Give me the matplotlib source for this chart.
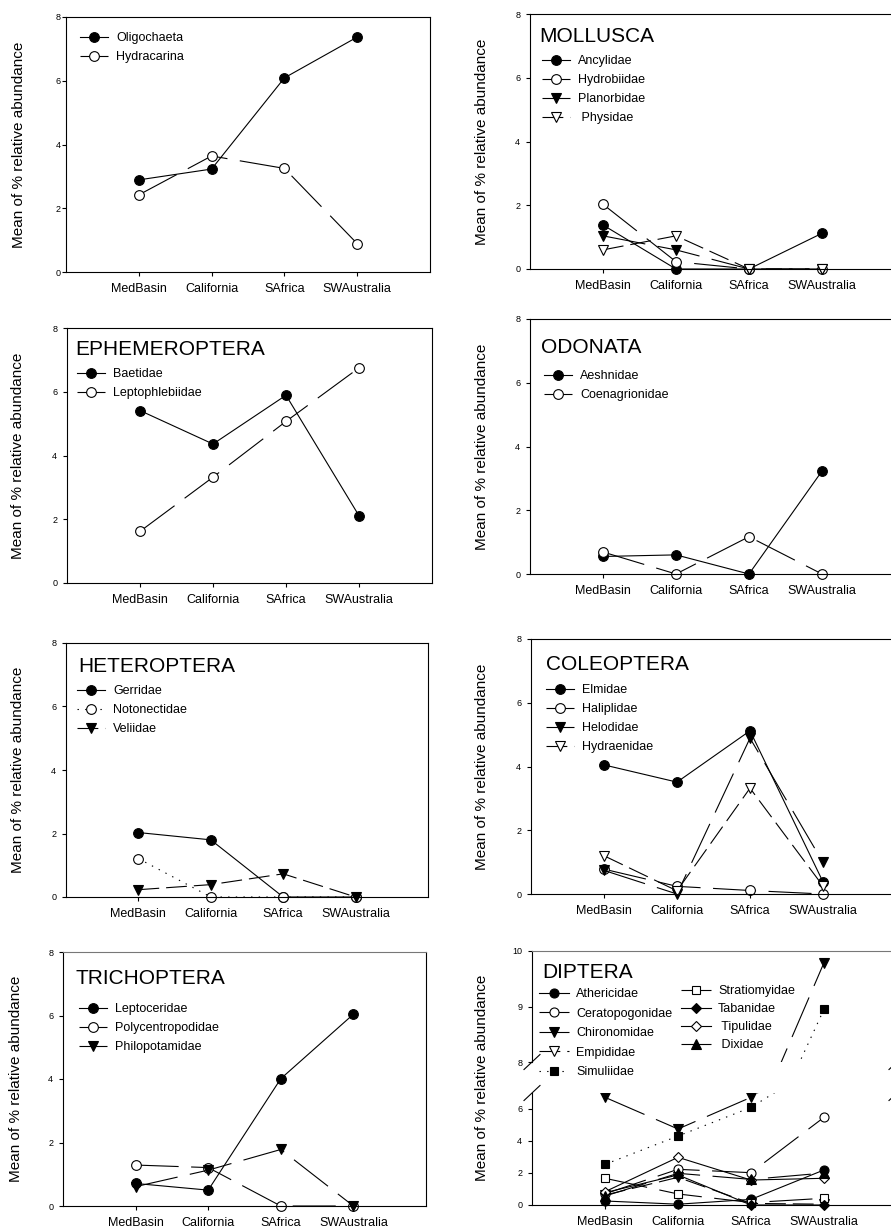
import matplotlib
matplotlib.use('Agg')
import matplotlib.pyplot as plt
from matplotlib.lines import Line2D
from matplotlib.legend import Legend
from matplotlib.transforms import Bbox, TransformedBbox

plt.rcParams['font.family'] = ['Liberation Sans', 'DejaVu Sans']
plt.rcParams['lines.scale_dashes'] = False

W, H = 891, 1230
fig = plt.figure(figsize=(W / 100, H / 100), dpi=100)

# ---------------- data ----------------
regions = ['MedBasin', 'California', 'SAfrica', 'SWAustralia']
xpos = [1, 2, 3, 4]

oligochaeta = [2.89, 3.23, 6.09, 7.37]
hydracarina = [2.42, 3.64, 3.25, 0.89]

ancylidae = [1.38, 0.0, 0.0, 1.12]
hydrobiidae = [2.03, 0.23, 0.0, 0.0]
planorbidae = [1.04, 0.60, 0.0, 0.0]
physidae = [0.60, 1.04, 0.0, 0.0]

baetidae = [5.41, 4.36, 5.89, 2.11]
leptophlebiidae = [1.62, 3.32, 5.07, 6.75]

aeshnidae = [0.55, 0.60, 0.0, 3.23]
coenagrionidae = [0.69, 0.0, 1.17, 0.0]

gerridae = [2.03, 1.80, 0.0, 0.0]
notonectidae = [1.21, 0.0, 0.0, 0.0]
veliidae = [0.23, 0.39, 0.73, 0.0]

elmidae = [4.05, 3.51, 5.12, 0.38]
haliplidae = [0.78, 0.24, 0.11, 0.0]
helodidae = [0.74, 0.0, 4.89, 0.99]
hydraenidae = [1.20, 0.10, 3.32, 0.25]

leptoceridae = [0.71, 0.50, 4.01, 6.04]
polycentropodidae = [1.29, 1.21, 0.0, 0.0]
philopotamidae = [0.61, 1.13, 1.78, 0.0]

athericidae = [0.25, 0.05, 0.35, 2.19]
ceratopogonidae = [0.70, 2.23, 2.02, 5.48]
chironomidae = [6.73, 4.75, 6.73, 9.79]
empididae = [0.62, 1.73, 0.10, 0.05]
simuliidae = [2.54, 4.31, 6.10, 8.95]
stratiomyidae = [1.67, 0.69, 0.15, 0.42]
tabanidae = [0.77, 1.88, 0.0, 0.0]
tipulidae = [0.83, 2.98, 1.56, 1.67]
dixidae = [0.56, 1.98, 1.60, 2.00]

# ---------------- styles ----------------
SOLID = '-'
LONG = (0, (31, 9))
MED = (0, (15, 5))
DOT = (0, (1, 4.5))
LW = 0.8


def fig_axes(l, t, r, b):
    return fig.add_axes([l / W, 1 - b / H, (r - l) / W, (b - t) / H])


def style_axes(ax, ypad):
    for s in ax.spines.values():
        s.set_linewidth(LW)
    ax.set_xlim(0, 5)
    ax.set_xticks(xpos)
    ax.set_xticklabels(regions, fontsize=9)
    ax.tick_params(axis='x', direction='out', length=3, width=LW, pad=5)
    ax.tick_params(axis='y', direction='out', length=3, width=LW, pad=ypad,
                   labelsize=6.5)


def plot_series(ax, label, vals, marker, filled, ls, ms=7, clip_box=None):
    ln, = ax.plot(xpos, vals, color='black', lw=LW, ls=ls, marker=marker,
                  ms=ms, mec='black', mew=LW,
                  mfc='black' if filled else 'white', label=label,
                  clip_on=clip_box is not None)
    if clip_box is not None:
        ln.set_clip_box(clip_box)
    return ln


def add_legend(ax, handles, hx, row1, fs=9, hl=2.24, htp=0.64, ls=0.57):
    top = row1 - 5.0
    leg = Legend(ax, handles, [h.get_label() for h in handles],
                 loc='upper left',
                 bbox_to_anchor=(hx / W, 1 - top / H),
                 bbox_transform=fig.transFigure, frameon=False,
                 fontsize=fs, handlelength=hl, handletextpad=htp,
                 labelspacing=ls, borderpad=0, borderaxespad=0,
                 numpoints=1)
    leg.set_zorder(10)
    ax.add_artist(leg)
    return leg


def ylabel_at(xc, yc):
    fig.text(xc / W, 1 - yc / H, 'Mean of % relative abundance', rotation=90,
             ha='center', va='center', fontsize=11)


def title_at(x, base, txt):
    fig.text(x / W, 1 - base / H, txt, fontsize=15, va='baseline', ha='left')


def simple_panel(box, series, title, tpos, lpos, ylx, ypad=4, topcolor='black'):
    l, t, r, b = box
    ax = fig_axes(l, t, r, b)
    handles = [plot_series(ax, *s) for s in series]
    ax.set_ylim(0, 8)
    ax.set_yticks([0, 2, 4, 6, 8])
    style_axes(ax, ypad)
    ax.spines['top'].set_color(topcolor)
    if title:
        title_at(tpos[0], tpos[1], title)
    add_legend(ax, handles, lpos[0], lpos[1])
    ylabel_at(ylx, (t + b) / 2)
    return ax


# Panel 1
simple_panel((66, 17, 430, 272),
             [('Oligochaeta', oligochaeta, 'o', True, SOLID),
              ('Hydracarina', hydracarina, 'o', False, LONG)],
             None, None, (80, 37), 19, ypad=1)

# Panel 2 MOLLUSCA
simple_panel((530, 14, 895, 269),
             [('Ancylidae', ancylidae, 'o', True, SOLID),
              ('Hydrobiidae', hydrobiidae, 'o', False, LONG),
              ('Planorbidae', planorbidae, 'v', True, LONG),
              (' Physidae', physidae, 'v', False, MED)],
             'MOLLUSCA', (539, 42), (542, 60), 482)

# Panel 3 EPHEMEROPTERA
simple_panel((67, 328, 432, 583),
             [('Baetidae', baetidae, 'o', True, SOLID),
              ('Leptophlebiidae', leptophlebiidae, 'o', False, LONG)],
             'EPHEMEROPTERA', (75, 355), (77, 373), 18)

# Panel 4 ODONATA
simple_panel((530, 319, 895, 574),
             [('Aeshnidae', aeshnidae, 'o', True, SOLID),
              ('Coenagrionidae', coenagrionidae, 'o', False, LONG)],
             'ODONATA', (541, 353), (544, 375), 482)

# Panel 5 HETEROPTERA
simple_panel((66, 643, 428, 897),
             [('Gerridae', gerridae, 'o', True, SOLID),
              ('Notonectidae', notonectidae, 'o', False, DOT),
              ('Veliidae', veliidae, 'v', True, MED)],
             'HETEROPTERA', (78, 672), (77, 690), 18)

# Panel 6 COLEOPTERA
simple_panel((531, 639, 896, 894),
             [('Elmidae', elmidae, 'o', True, SOLID),
              ('Haliplidae', haliplidae, 'o', False, LONG),
              ('Helodidae', helodidae, 'v', True, LONG),
              ('Hydraenidae', hydraenidae, 'v', False, MED)],
             'COLEOPTERA', (546, 670), (546, 689), 482)

# Panel 7 TRICHOPTERA
simple_panel((63, 952, 426, 1206),
             [('Leptoceridae', leptoceridae, 'o', True, SOLID),
              ('Polycentropodidae', polycentropodidae, 'o', False, LONG),
              ('Philopotamidae', philopotamidae, 'v', True, LONG)],
             'TRICHOPTERA', (76, 984), (79, 1008), 16, topcolor='#777777')

# Panel 8 DIPTERA (broken axis)
dl, dr = 532, 897
up_t, up_b = 951, 1062
lo_t, lo_b = 1093, 1205
ax_up = fig_axes(dl, up_t, dr, up_b)
ax_lo = fig_axes(dl, lo_t, dr, lo_b)

dip_series = [
    ('Athericidae', athericidae, 'o', True, SOLID, 6.5),
    ('Ceratopogonidae', ceratopogonidae, 'o', False, LONG, 6.5),
    ('Chironomidae', chironomidae, 'v', True, LONG, 7),
    ('Empididae', empididae, 'v', False, MED, 7),
    ('Simuliidae', simuliidae, 's', True, DOT, 5.5),
    ('Stratiomyidae', stratiomyidae, 's', False, LONG, 5.5),
    ('Tabanidae', tabanidae, 'D', True, SOLID, 5.5),
    (' Tipulidae', tipulidae, 'D', False, SOLID, 5.5),
    (' Dixidae', dixidae, '^', True, LONG, 6.5),
]

clip_lo = TransformedBbox(Bbox([[-0.2, -0.2], [1.2, 1.0]]), ax_lo.transAxes)
clip_up = TransformedBbox(Bbox([[-0.2, 0.0], [1.2, 1.2]]), ax_up.transAxes)
up_handles = []
for lab, vals, mk, fl, ls, ms in dip_series:
    plot_series(ax_lo, lab, vals, mk, fl, ls, ms=ms, clip_box=clip_lo)
    up_handles.append(plot_series(ax_up, lab, vals, mk, fl, ls, ms=ms,
                                  clip_box=clip_up))

ax_lo.set_ylim(0, 7)
ax_lo.set_yticks([0, 2, 4, 6])
style_axes(ax_lo, 4)
ax_lo.spines['top'].set_visible(False)

ax_up.set_ylim(8, 10)
ax_up.set_yticks([8, 9, 10])
style_axes(ax_up, 4)
ax_up.spines['bottom'].set_visible(False)
ax_up.spines['top'].set_color('#777777')
ax_up.tick_params(axis='x', bottom=False, labelbottom=False)

title_at(542, 978, 'DIPTERA')
add_legend(ax_up, up_handles[:5], 539, 993.3, hl=2.4, htp=0.56, ls=0.6)
add_legend(ax_up, up_handles[5:], 681, 990, hl=2.4, htp=0.56, ls=0.48)
ylabel_at(482, (up_t + lo_b) / 2)

# break marks on the broken axis
for xc in (dl, dr):
    for yc in (up_b, lo_t):
        fig.add_artist(Line2D([(xc - 8) / W, (xc + 8) / W],
                              [1 - (yc + 7.5) / H, 1 - (yc - 7.5) / H],
                              color='black', lw=LW))

fig.savefig('out.png', dpi=100)
